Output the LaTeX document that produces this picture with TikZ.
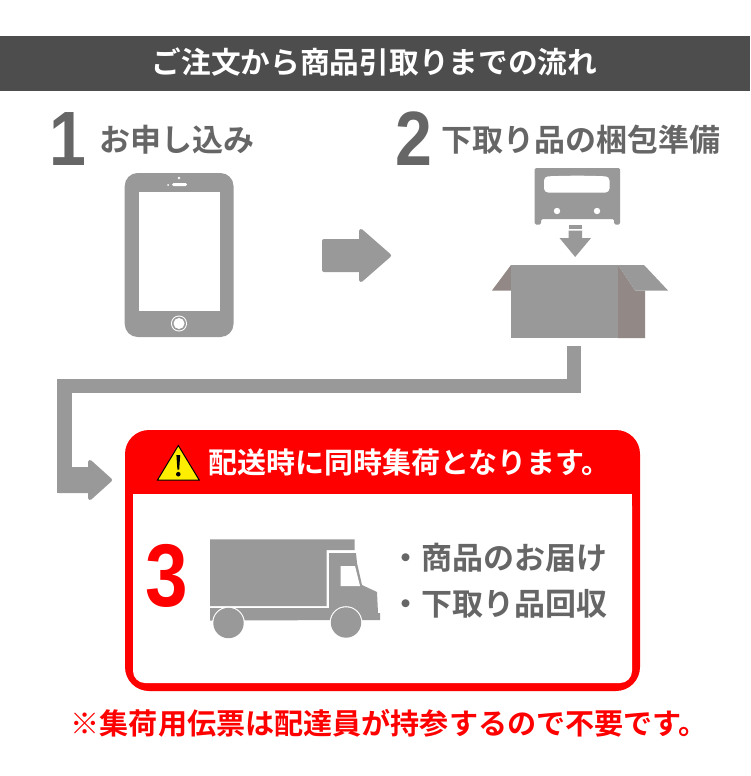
\documentclass[tikz,border=0pt]{standalone}
\usepackage{fontspec}
\setmainfont{Noto Sans CJK JP}[BoldFont={* Bold}]
\newfontfamily\numfont{Liberation Sans Bold}
\definecolor{icongray}{HTML}{999999}
\definecolor{textgray}{HTML}{666666}
\definecolor{barcol}{HTML}{4D4D4D}
\definecolor{boxside}{HTML}{928885}
\definecolor{warnyellow}{HTML}{FFEE00}
\newcommand{\fs}[1]{\fontsize{#1}{#1}\selectfont}
\tikzset{
  x=1pt,y=-1pt,
  txt/.style={inner sep=0pt,anchor=base west,font=\bfseries},
  numeral/.style={inner sep=0pt,anchor=base,xscale=0.86},
  icon/.style={fill=icongray,draw=none},
  blockarrow/.style={fill=icongray,draw=icongray,line width=4pt,line join=round},
  conn/.style={draw=icongray,line width=14.5pt,line cap=butt,line join=miter}
}
\begin{document}
\begin{tikzpicture}
\useasboundingbox (0,0) rectangle (750,776);
\fill[white] (0,0) rectangle (750,776);
% header
\fill[barcol] (0,36) rectangle (750,91);
\node[txt,text=white] (title) at (151.5,73.5) {\fs{29.7}ご注文から商品引取りまでの流れ};
% step 1
\node[numeral,text=textgray] (n1) at (68,165) {\fs{77}\numfont 1};
\node[txt,text=textgray] (s1) at (99,151) {\fs{31}お申し込み};
% tablet
\fill[icon,rounded corners=13pt] (124.7,173) rectangle (233.5,337);
\fill[white] (139,192) rectangle (220,311);
\fill[white,rounded corners=1.5pt] (172,183) rectangle (187,186.2);
\fill[white] (179,178) circle (1.3);
\fill[white] (168,185) circle (1);
\fill[white] (179,323.5) circle (8);
\fill[icongray] (179,323.5) circle (7);
\fill[white] (179,323.5) circle (5.5);
% arrow 1-2
\filldraw[blockarrow] (324,241) -- (361,241) -- (361,231) -- (389,255.5) -- (361,280) -- (361,270) -- (324,270) -- cycle;
% step 2
\node[numeral,text=textgray] (n2) at (414,165) {\fs{77}\numfont 2};
\node[txt,text=textgray] (s2) at (441,151) {\fs{31}下取り品の梱包準備};
% bed
\fill[icon,rounded corners=1.5pt] (534.5,168) -- (620,168) -- (620,224.5) -- (614,224.5) -- (614,219) -- (541,219) -- (541,224.5) -- (534.5,224.5) -- cycle;
\fill[white,rounded corners=4pt] (544,176.5) .. controls (570,175.5) and (585,175.5) .. (609.5,176.5) -- (609.5,192.5) -- (544,192.5) -- cycle;
\fill[white] (557,211) circle (3.2);
\fill[white] (597,211) circle (3.2);
% down arrow
\fill[icon] (568.5,225) rectangle (582,229);
\fill[icon] (568.5,230.5) -- (582,230.5) -- (582,238) -- (591,238) -- (575.2,257) -- (559.5,238) -- (568.5,238) -- cycle;
% box
\fill[boxside] (511,265) -- (492,290.5) -- (511,290.5) -- cycle;
\fill[icon] (511,265) rectangle (618,338);
\fill[boxside] (618,265) -- (635,290.5) -- (645,290.5) -- (645,338) -- (618,338) -- cycle;
\fill[icon] (618,265) -- (644,265) -- (668,290.5) -- (635,290.5) -- cycle;
\coordinate (boxfoot) at (574,346);
% connector
\coordinate (elbowA) at (574,386);
\coordinate (elbowB) at (64.5,386);
\coordinate (tail) at (64.5,480);
\draw[conn] (boxfoot) -- (elbowA) -- (elbowB) -- ([yshift=-13pt]tail);
\filldraw[blockarrow] (59,469) -- (90,469) -- (90,462) -- (110,480) -- (90,498) -- (90,491) -- (59,491) -- cycle;
% red panel
\fill[red,rounded corners=24pt] (125,430) rectangle (640,691);
\fill[white,rounded corners=12pt] (133,494) -- (133,683) -- (632,683) -- (632,494) -- cycle;
\fill[white] (133,494) rectangle (632,510);
% warning
\filldraw[fill=warnyellow,draw=black,line width=1pt,line join=miter] (178.3,445.5) -- (157.5,480) -- (199.2,480) -- cycle;
\fill[black] (176.4,455) -- (180.2,455) -- (179.2,469.5) -- (177.4,469.5) -- cycle;
\fill[black] (178.3,474.2) circle (2.3);
\node[txt,text=white] (warn) at (208,473) {\fs{29}配送時に同時集荷となります。};
% step 3
\node[numeral,text=red] (n3) at (166.5,606) {\fs{89}\numfont 3};
% truck
\fill[icon] (210,539.3) -- (354.5,539.3) -- (354.5,550) -- (326.5,550) -- (326.5,606) -- (210,606) -- cycle;
\fill[icon] (329,553) -- (356,553) -- (357,563) -- (362,585) -- (377,592) -- (378,613) -- (380,613) -- (380,620) -- (210,620.5) -- (210,608) -- (329,608) -- cycle;
\fill[white] (340.7,566) -- (355,566) -- (360,586) -- (340.7,586) -- cycle;
\fill[white] (228.5,623) circle (16.3);
\fill[white] (346,622.5) circle (16.3);
\fill[icon] (228.5,623) circle (15.2);
\fill[icon] (346,622.5) circle (15.2);
% list
\node[txt,text=textgray] (l1) at (390,569.8) {\fs{31}・商品のお届け};
\node[txt,text=textgray] (l2) at (390,615.8) {\fs{31}・下取り品回収};
% note
\node[txt,text=red] (note) at (70.5,734) {\fs{29.1}※集荷用伝票は配達員が持参するので不要です。};
\end{tikzpicture}
\end{document}
